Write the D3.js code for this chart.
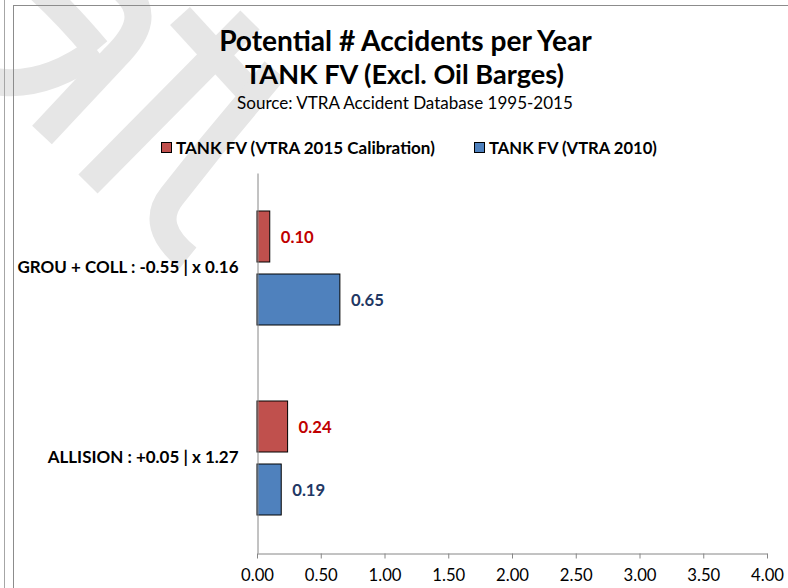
<!DOCTYPE html>
<html>
<head>
<meta charset="utf-8">
<script src="https://cdn.jsdelivr.net/npm/d3@7"></script>
<style>
  html, body { margin: 0; padding: 0; background: #fff; }
  svg { display: block; font-family: Lato, "Open Sans", sans-serif; }
</style>
</head>
<body>
<svg id="chart" width="788" height="588"></svg>
<script>
// ---- data ----
const categories = ["GROU + COLL : -0.55 | x 0.16", "ALLISION : +0.05 | x 1.27"];
const seriesNames = ["TANK FV (VTRA 2015 Calibration)", "TANK FV (VTRA 2010)"];
const calib2015 = [0.10, 0.24];
const vtra2010 = [0.65, 0.19];
const xTicks = [0, 0.5, 1, 1.5, 2, 2.5, 3, 3.5, 4];
const titleLines = ["Potential # Accidents per Year", "TANK FV (Excl. Oil Barges)"];
const subtitle = "Source: VTRA Accident Database 1995-2015";

const seriesValues = [calib2015, vtra2010];
const fills = ["#C0504D", "#4F81BD"];
const labelColors = ["#C00000", "#1F3864"];

const svg = d3.select("#chart");

// scale a text's font size so that it spans the target width
function fit(sel, target) {
  const n = sel.node();
  const fs = parseFloat(sel.attr("font-size"));
  const w = n.getComputedTextLength();
  const nf = fs * target / w;
  sel.attr("font-size", nf);
  return nf;
}

// watermark (page background)
const wm = svg.append("g").attr("fill", "none").attr("stroke", "#e6e6e6").attr("stroke-width", 27);
wm.append("path").attr("d", "M 35,-15 Q 65,12 97,50");
wm.append("path").attr("d", "M -12,80 Q 40,92 97,50");
wm.append("path").attr("d", "M 122,-12 C 148,10 140,32 115,57 L 42,135");
wm.append("path").attr("d", "M 88,184 L 250,20");
wm.append("path").attr("d", "M 180,16 L 246,88");
wm.append("path").attr("d", "M 275,70 L 210,148 L 172,196 Q 148,226 188,258");

// frame
svg.append("line").attr("x1", 4.5).attr("x2", 4.5).attr("y1", 0).attr("y2", 588)
  .attr("stroke", "#a6a6a6").attr("stroke-width", 1);
svg.append("rect").attr("x", 13.5).attr("y", 5.5).attr("width", 800).attr("height", 700)
  .attr("fill", "none").attr("stroke", "#8c8c8c").attr("stroke-width", 1);

// titles
const t1 = svg.append("text").attr("x", 405.5).attr("y", 51).attr("text-anchor", "middle")
  .attr("font-size", 24).attr("font-weight", "bold").attr("fill", "#000").text(titleLines[0]);
fit(t1, 373);
const t2 = svg.append("text").attr("x", 404.5).attr("y", 84).attr("text-anchor", "middle")
  .attr("font-size", 24).attr("font-weight", "bold").attr("fill", "#000").text(titleLines[1]);
fit(t2, 319);
const st = svg.append("text").attr("x", 405).attr("y", 109).attr("text-anchor", "middle")
  .attr("font-size", 14).attr("fill", "#000").text(subtitle);
fit(st, 336);

// scales
const x = d3.scaleLinear().domain([0, 4]).range([257, 767]);
const y = d3.scaleBand().domain(categories).range([173, 553]).paddingInner(0.4).paddingOuter(0.2);
const ySub = d3.scaleBand().domain(seriesNames).range([0, y.bandwidth()]).paddingInner(12 / 63);

// bars
let valueFont = null;
seriesNames.forEach((s, si) => {
  const g = svg.append("g");
  g.selectAll("rect").data(categories).join("rect")
    .attr("x", x(0))
    .attr("y", (c) => y(c) + ySub(s))
    .attr("width", (c, i) => x(seriesValues[si][i]) - x(0))
    .attr("height", ySub.bandwidth())
    .attr("fill", fills[si]).attr("stroke", "#000").attr("stroke-width", 1);
  const labels = g.selectAll("text").data(categories).join("text")
    .attr("x", (c, i) => x(seriesValues[si][i]) + 11)
    .attr("y", (c) => y(c) + ySub(s) + ySub.bandwidth() / 2)
    .attr("dy", "0.36em")
    .attr("font-size", 15).attr("font-weight", "bold").attr("fill", labelColors[si])
    .text((c, i) => seriesValues[si][i].toFixed(2));
  if (valueFont === null) valueFont = fit(labels.filter((d, i) => i === 0), 33);
  labels.attr("font-size", valueFont);
});

// x axis
const xAxis = svg.append("g").attr("transform", "translate(0,553.5)")
  .call(d3.axisBottom(x).tickValues(xTicks).tickFormat(d3.format(".2f")).tickSize(5).tickSizeOuter(0).tickPadding(11));
xAxis.select(".domain").attr("stroke", "#868686");
xAxis.selectAll(".tick line").attr("stroke", "#868686");
const tickTexts = xAxis.selectAll(".tick text").attr("font-size", 15)
  .attr("font-family", "Lato, sans-serif").attr("fill", "#000");
const tf = fit(tickTexts.filter((d, i) => i === 0), 33);
tickTexts.attr("font-size", tf);

// y axis
const yAxis = svg.append("g").attr("transform", "translate(257.5,0)")
  .call(d3.axisLeft(y).tickSize(0).tickPadding(19).tickSizeOuter(0));
yAxis.select(".domain").attr("stroke", "#868686");
const catTexts = yAxis.selectAll(".tick text").attr("font-size", 14).attr("font-weight", "bold")
  .attr("font-family", "Lato, sans-serif").attr("fill", "#000");
const cf = fit(catTexts.filter((d, i) => i === 0), 221);
catTexts.attr("font-size", cf);

// legend
const legendX = [161, 474];
const legendW = [259, 168];
seriesNames.forEach((s, si) => {
  svg.append("rect").attr("x", legendX[si] + 0.5).attr("y", 142.5).attr("width", 10).attr("height", 10)
    .attr("fill", fills[si]).attr("stroke", "#000").attr("stroke-width", 1);
  const lt = svg.append("text").attr("x", legendX[si] + 15).attr("y", 148).attr("dy", "0.35em")
    .attr("font-size", 15).attr("font-weight", "bold").attr("fill", "#000").text(s);
  fit(lt, legendW[si]);
});
</script>
</body>
</html>
